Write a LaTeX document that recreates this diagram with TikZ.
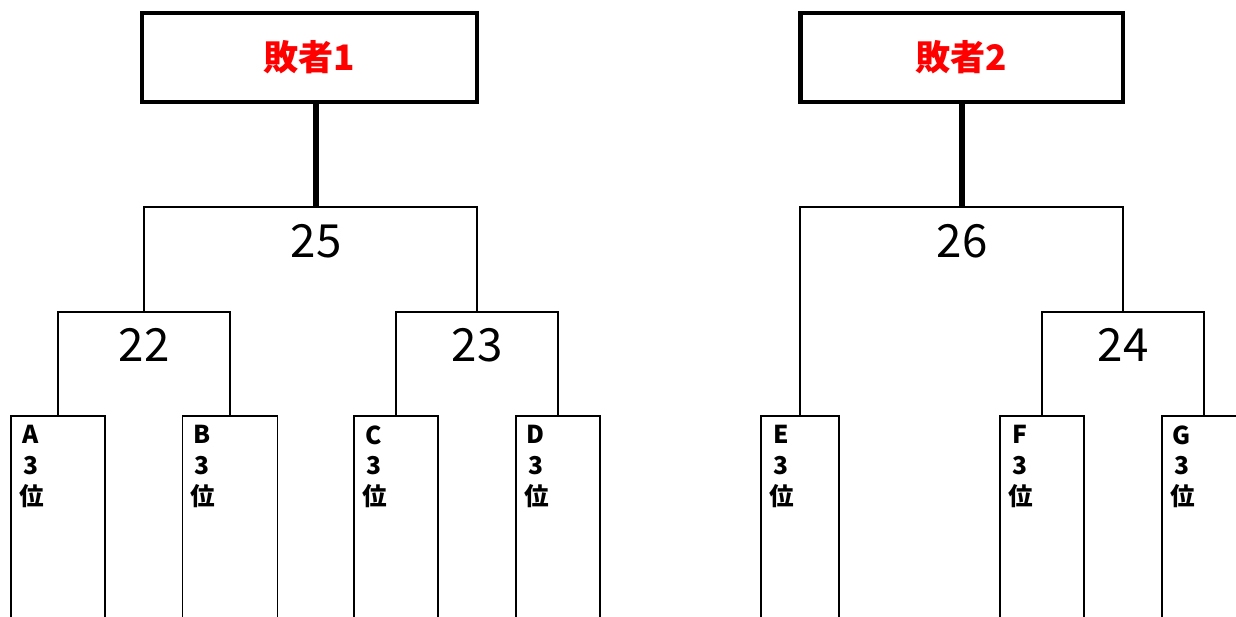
\documentclass[tikz,border=0pt]{standalone}
\usepackage{fontspec}
\setmainfont{Noto Sans CJK JP}
\newfontfamily\heavyfont{Noto Sans CJK JP Black}
\usetikzlibrary{positioning}

\begin{document}
\begin{tikzpicture}[x=0.02cm, y=-0.02cm,
    loser/.style={draw, line width=2.8pt, minimum height=1.78cm, text=red, font=\heavyfont\fontsize{20}{24}\selectfont},
    team/.style={draw, line width=1.1pt, anchor=north, minimum height=4.8cm, inner sep=0pt},
    rank/.style={align=center, text width=0.46cm, inner sep=0pt, font=\bfseries\fontsize{14}{17.5}\selectfont},
    num/.style={font=\fontsize{26}{30}\selectfont},
    wire/.style={line width=1.1pt}]
    \useasboundingbox (0,0) rectangle (1236,616);
    % losers of the first round
    \node[loser, minimum width=6.7cm] (L1) at (309.5,57.5) {敗者1};
    \node[loser, minimum width=6.46cm] (L2) at (961.5,57.5) {敗者2};
    % entrants
    \node[team, minimum width=1.88cm] (A) at (58,415) {};
    \node[team, minimum width=1.9cm] (B) at (230,415) {};
    \node[team, minimum width=1.68cm] (C) at (396,415) {};
    \node[team, minimum width=1.68cm] (D) at (558,415) {};
    \node[team, minimum width=1.56cm] (E) at (800,415) {};
    \node[team, minimum width=1.68cm] (F) at (1042,415) {};
    \node[team, minimum width=1.68cm] (G) at (1204,415) {};
    \node[rank, below right=0.2cm and 0.18cm of A.north west] (rA) {A\\3\\位};
    \node[rank, below right=0.2cm and 0.18cm of B.north west] (rB) {B\\3\\位};
    \node[rank, below right=0.2cm and 0.18cm of C.north west] (rC) {C\\3\\位};
    \node[rank, below right=0.2cm and 0.18cm of D.north west] (rD) {D\\3\\位};
    \node[rank, below right=0.2cm and 0.18cm of E.north west] (rE) {E\\3\\位};
    \node[rank, below right=0.2cm and 0.18cm of F.north west] (rF) {F\\3\\位};
    \node[rank, below right=0.2cm and 0.18cm of G.north west] (rG) {G\\3\\位};
    % matches
    \coordinate (m22) at (144,312);
    \coordinate (m23) at (477,312);
    \coordinate (m24) at (1123,312);
    \coordinate (m25) at (316,207);
    \coordinate (m26) at (962,207);
    \draw[wire] (A.north) |- (m22) -| (B.north);
    \draw[wire] (C.north) |- (m23) -| (D.north);
    \draw[wire] (F.north) |- (m24) -| (G.north);
    \draw[wire] (m22) |- (m25) -| (m23);
    \draw[wire] (E.north) |- (m26) -| (m24);
    \draw[line width=3.4pt] (L1.south -| m25) -- (m25);
    \draw[line width=3.4pt] (L2.south -| m26) -- (m26);
    \node[num] (n22) at (144,345) {22};
    \node[num] (n23) at (477,345) {23};
    \node[num] (n24) at (1123,345) {24};
    \node[num] (n25) at (316,241) {25};
    \node[num] (n26) at (962,241) {26};
\end{tikzpicture}
\end{document}
